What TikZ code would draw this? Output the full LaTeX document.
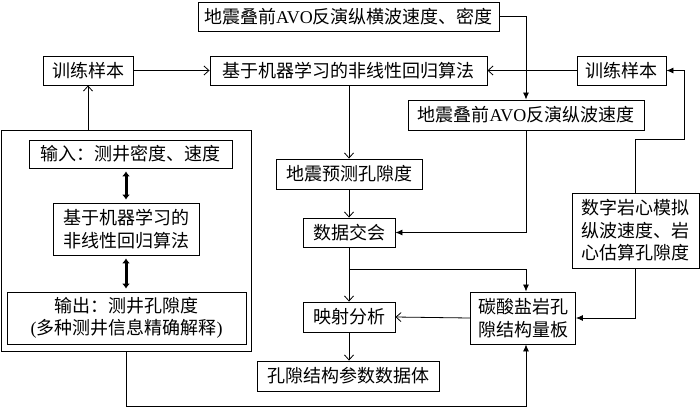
\documentclass[tikz,border=0pt]{standalone}
\usepackage{fontspec}
\setmainfont{Liberation Serif}
\newfontfamily\cjk{Noto Sans CJK SC}
\usetikzlibrary{arrows.meta}
\tikzset{
  box/.style={draw, line width=0.9pt, inner sep=0pt, align=center,
    font=\cjk\fontsize{18}{22.5}\selectfont},
  opn/.style={-{Straight Barb[length=5pt,width=9pt]}, line width=0.8pt},
  fil/.style={-{Latex[length=7pt,width=6pt]}, line width=0.8pt},
  thk/.style={{Latex[length=5pt,width=8pt]}-{Latex[length=5pt,width=8pt]}, line width=3pt, shorten <=3pt, shorten >=3pt},
}
\newcommand{\lat}[1]{{\rmfamily #1}}
\begin{document}
\begin{tikzpicture}[x=1pt,y=-1pt]
\useasboundingbox (0,0) rectangle (700,408);
\node[box, minimum width=301pt, minimum height=29pt] (top) at (348.5,16.5) {地震叠前\lat{AVO}反演纵横波速度、密度};
\node[box, minimum width=90pt, minimum height=29pt] (tsL) at (88,70.5) {训练样本};
\node[box, minimum width=277pt, minimum height=29pt] (alg) at (348.5,70.5) {基于机器学习的非线性回归算法};
\node[box, minimum width=89pt, minimum height=29pt] (tsR) at (621.5,70.5) {训练样本};
\node[box, minimum width=236pt, minimum height=30pt] (avo) at (526,115) {地震叠前\lat{AVO}反演纵波速度};
\node[box, minimum width=146pt, minimum height=30pt] (pred) at (349,174) {地震预测孔隙度};
\node[box, minimum width=92pt, minimum height=29pt] (cross) at (349,232.5) {数据交会};
\node[box, minimum width=92pt, minimum height=30pt] (map) at (349,317) {映射分析};
\node[box, minimum width=182pt, minimum height=30pt] (pore) at (348,376) {孔隙结构参数数据体};
\node[box, minimum width=105pt, minimum height=52pt] (carb) at (523,318) {碳酸盐岩孔\\隙结构量板};
\node[box, minimum width=127pt, minimum height=75pt] (dig) at (635.5,230.5) {数字岩心模拟\\纵波速度、岩\\心估算孔隙度};
\node[box, minimum width=250pt, minimum height=221pt] (big) at (126,240.5) {};
\node[box, minimum width=203pt, minimum height=28pt] (in) at (130.5,154) {输入：测井密度、速度};
\node[box, minimum width=146pt, minimum height=52pt] (ml) at (126,229) {基于机器学习的\\非线性回归算法};
\node[box, minimum width=239pt, minimum height=52pt] (out) at (126.5,318) {输出：测井孔隙度\\\lat{(}多种测井信息精确解释\lat{)}};
\coordinate (r1) at (684,139);
\coordinate (b1) at (126,406.5);
\coordinate (j1) at (349,269);
% connectors
\draw[fil] (top.east) -| (avo.north);
\draw[opn] (tsL.east) -- (alg.west);
\draw[opn] (tsR.west) -- (alg.east);
\draw[opn] (big.north -| tsL.south) -- (tsL.south);
\draw[opn] (alg.south -| pred.north) -- (pred.north);
\draw[opn] (pred.south) -- (cross.north);
\draw[fil] (avo.south) |- (cross.east);
\draw[opn] (cross.south) -- (map.north);
\draw[fil] (j1) -| (carb.north -| avo.south);
\draw[opn] (carb.west) -- (map.east);
\draw[opn] (map.south) -- (pore.north -| map.south);
\draw[fil] (dig.south) |- (carb.east);
\draw[fil] (dig.north) |- (r1) |- (tsR.east);
\draw[fil] (big.south) -- (b1) -| (carb.south -| avo.south);
\draw[thk] (in.south -| ml.north) -- (ml.north);
\draw[thk] (ml.south) -- (out.north -| ml.south);
\end{tikzpicture}
\end{document}
